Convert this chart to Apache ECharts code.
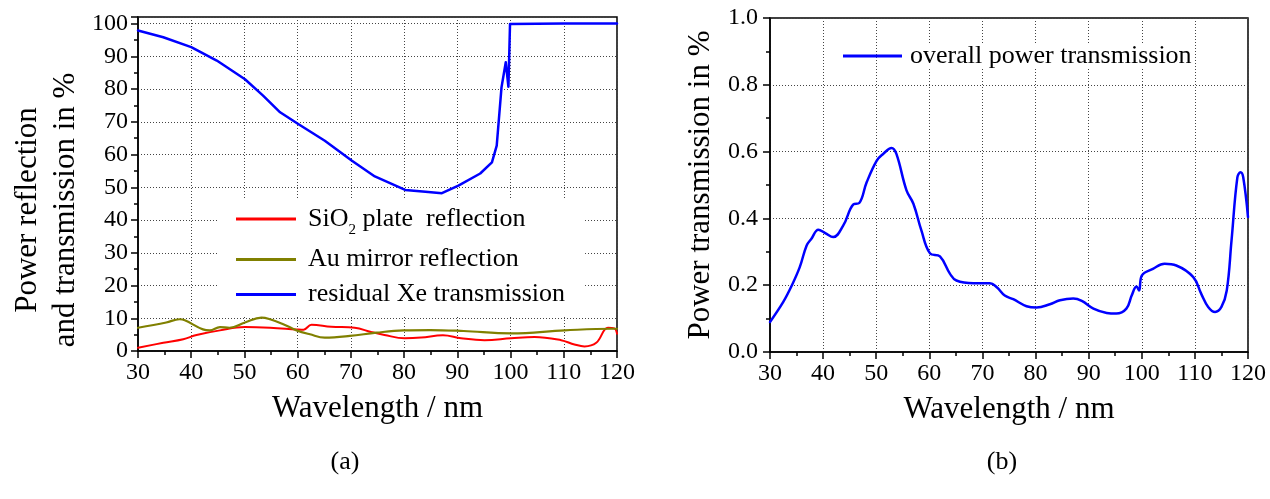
<!DOCTYPE html>
<html><head><meta charset="utf-8">
<script src="https://cdn.jsdelivr.net/npm/echarts@6/dist/echarts.min.js"></script>
<style>html,body{margin:0;padding:0;background:#fff}#c{width:1270px;height:499px}</style>
</head><body><div id="c"></div><script>
// ---- data ----
const xeWl  = [30,34.75,40,44.8,50.1,53.5,56.7,60.1,65.1,70.2,74.5,80.2,84,87.1,90.2,94.3,96.5,97.4,98.3,99.1,99.6,99.9,100,110,120];
const xeVal = [97.9,95.8,92.8,88.7,83.0,78.0,72.9,69.3,64.2,58.1,53.3,49.2,48.6,48.2,50.5,54.2,57.6,62.7,80.5,88.2,80.7,99.9,100,100,100];

const sio2Wl  = [30,34.75,38.5,41,45.4,50.1,54.8,59.8,61.1,62.6,66.3,70.7,73.8,76.3,80.1,83.2,87.3,90.7,95.1,100.1,104.5,109.5,112,113.9,116.1,118.3,119.5,120];
const sio2Val = [1.0,2.5,3.6,4.9,6.3,7.3,7.1,6.6,6.5,8.0,7.4,7.1,5.8,4.9,3.9,4.1,4.8,3.9,3.3,3.9,4.3,3.3,2.0,1.4,2.5,7.1,6.9,5.3];

const auWl  = [30,35.3,37.8,38.8,42.2,43.5,45.4,47.2,50.1,53.2,54.8,57.3,59.8,62.3,65.1,69.8,74.8,79.9,84.9,91.2,100.1,110.2,119,120];
const auVal = [7.1,8.7,9.7,9.4,6.6,6.3,7.3,7.1,8.7,10.2,9.7,8.2,6.3,5.1,4.1,4.6,5.6,6.3,6.4,6.1,5.4,6.3,6.8,6.8];

const totWl  = [30,32.5,34.1,35.6,36.9,37.8,39.1,40.4,41.9,43.8,45.7,46.8,48.2,50.1,51.3,52.9,53.8,55.7,57.0,58.5,60.1,62.0,63.9,65.1,68.3,71.4,72.7,74.2,75.8,78.3,80.2,82.7,84.6,87.1,88.7,90.9,93.4,95.2,97.1,98.1,99.0,99.5,100.0,102.1,104.3,106.5,109.7,111.2,112.5,113.8,115.0,116.0,116.9,118.0,118.6,119.1,120];
const totVal = [0.090,0.150,0.199,0.254,0.319,0.339,0.366,0.356,0.344,0.379,0.442,0.446,0.508,0.573,0.593,0.611,0.593,0.484,0.444,0.364,0.296,0.286,0.234,0.214,0.206,0.206,0.194,0.169,0.158,0.137,0.133,0.143,0.155,0.160,0.153,0.130,0.117,0.115,0.130,0.169,0.196,0.184,0.229,0.249,0.264,0.259,0.224,0.174,0.135,0.120,0.135,0.184,0.334,0.523,0.538,0.523,0.404];

const seriesNames = ['SiO2 plate  reflection', 'Au mirror reflection', 'residual Xe transmission'];
const rightName = 'overall power transmission';
const xTitle = 'Wavelength / nm';
const yTitleLeft = ['Power reflection', 'and transmission in %'];
const yTitleRight = 'Power transmission in %';
const captions = ['(a)', '(b)'];

// ---- chart ----
const F = '"Liberation Serif", "DejaVu Serif", serif';
const zip = (a, b) => a.map((v, i) => [v, b[i]]);
const chart = echarts.init(document.getElementById('c'), null, {renderer: 'canvas'});

const axisBase = () => ({
  type: 'value',
  axisLine: {show: true, onZero: false, lineStyle: {color: '#000', width: 1.5}},
  axisTick: {show: true, inside: false, length: 7, lineStyle: {color: '#000', width: 1.5}},
  minorTick: {show: true, splitNumber: 2, length: 4, lineStyle: {color: '#000', width: 1.5}},
  splitLine: {show: true, lineStyle: {color: '#444', type: [1, 2], width: 1}},
  axisLabel: {color: '#000', fontFamily: F, fontSize: 24}
});

function xAxis(gi) {
  const a = axisBase();
  return Object.assign(a, {
    gridIndex: gi, min: 30, max: 120, interval: 10,
    axisLabel: Object.assign(a.axisLabel, {margin: 10}),
    name: xTitle, nameLocation: 'middle', nameGap: 42,
    nameTextStyle: {color: '#000', fontFamily: F, fontSize: 31}
  });
}

const yL = axisBase();
Object.assign(yL, {gridIndex: 0, min: 0, max: 102, interval: 10,
  axisLabel: Object.assign(yL.axisLabel, {margin: 10, showMaxLabel: false})});

const yR = axisBase();
Object.assign(yR, {gridIndex: 1, min: 0, max: 1.0, interval: 0.2,
  axisLabel: Object.assign(yR.axisLabel, {margin: 12, formatter: v => v.toFixed(1)}),
  name: yTitleRight, nameLocation: 'middle', nameRotate: 90, nameGap: 54,
  nameTextStyle: {color: '#000', fontFamily: F, fontSize: 31}});

const lineSeries = (name, data, color, xi, yi, width, smooth) => ({
  name, type: 'line', data, xAxisIndex: xi, yAxisIndex: yi,
  symbol: 'none', showSymbol: false, smooth: smooth,
  lineStyle: {color, width, join: 'round', cap: 'round'}, itemStyle: {color}, z: 3, animation: false
});

const option = {
  animation: false,
  backgroundColor: '#fff',
  grid: [
    {left: 138, top: 17, width: 479, height: 334, show: true, borderColor: '#000', borderWidth: 1.5, backgroundColor: 'transparent'},
    {left: 770, top: 18, width: 478, height: 334, show: true, borderColor: '#000', borderWidth: 1.5, backgroundColor: 'transparent'}
  ],
  xAxis: [xAxis(0), xAxis(1)],
  yAxis: [yL, yR],
  legend: [
    {
      data: seriesNames, orient: 'vertical', left: 217, top: 200,
      backgroundColor: '#fff', padding: [6, 20, 8, 19], itemGap: 9,
      icon: 'rect', itemWidth: 60, itemHeight: 3,
      formatter: n => n === seriesNames[0] ? 'SiO{sub|2} plate  reflection' : n,
      textStyle: {fontFamily: F, fontSize: 26, color: '#000', padding: [0, 0, 0, 7],
        rich: {sub: {fontFamily: F, fontSize: 15, color: '#000', padding: [22, 0, 0, 0]}}}
    },
    {
      data: [rightName], left: 843, top: 43, padding: 0,
      icon: 'rect', itemWidth: 59, itemHeight: 3,
      textStyle: {fontFamily: F, fontSize: 26, color: '#000', padding: [0, 0, 0, 3], backgroundColor: '#fff'}
    }
  ],
  series: [
    lineSeries(seriesNames[0], zip(sio2Wl, sio2Val), '#ff0000', 0, 0, 2, 0.4),
    lineSeries(seriesNames[1], zip(auWl, auVal), '#808000', 0, 0, 2.2, 0.4),
    lineSeries(seriesNames[2], zip(xeWl, xeVal), '#0000ff', 0, 0, 2.5, false),
    lineSeries(rightName, zip(totWl, totVal), '#0000ff', 1, 1, 2.5, 0.4)
  ],
  graphic: [
    {type: 'text', x: 28, y: 210, rotation: Math.PI / 2,
      style: {text: yTitleLeft[0], font: '31px ' + F, fill: '#000', textAlign: 'center', textVerticalAlign: 'middle'}},
    {type: 'text', x: 66, y: 210, rotation: Math.PI / 2,
      style: {text: yTitleLeft[1], font: '31px ' + F, fill: '#000', textAlign: 'center', textVerticalAlign: 'middle'}},
    {type: 'text', x: 345, y: 462,
      style: {text: captions[0], font: '26px ' + F, fill: '#000', textAlign: 'center', textVerticalAlign: 'middle'}},
    {type: 'text', x: 1002, y: 462,
      style: {text: captions[1], font: '26px ' + F, fill: '#000', textAlign: 'center', textVerticalAlign: 'middle'}}
  ]
};
chart.setOption(option);
</script></body></html>
